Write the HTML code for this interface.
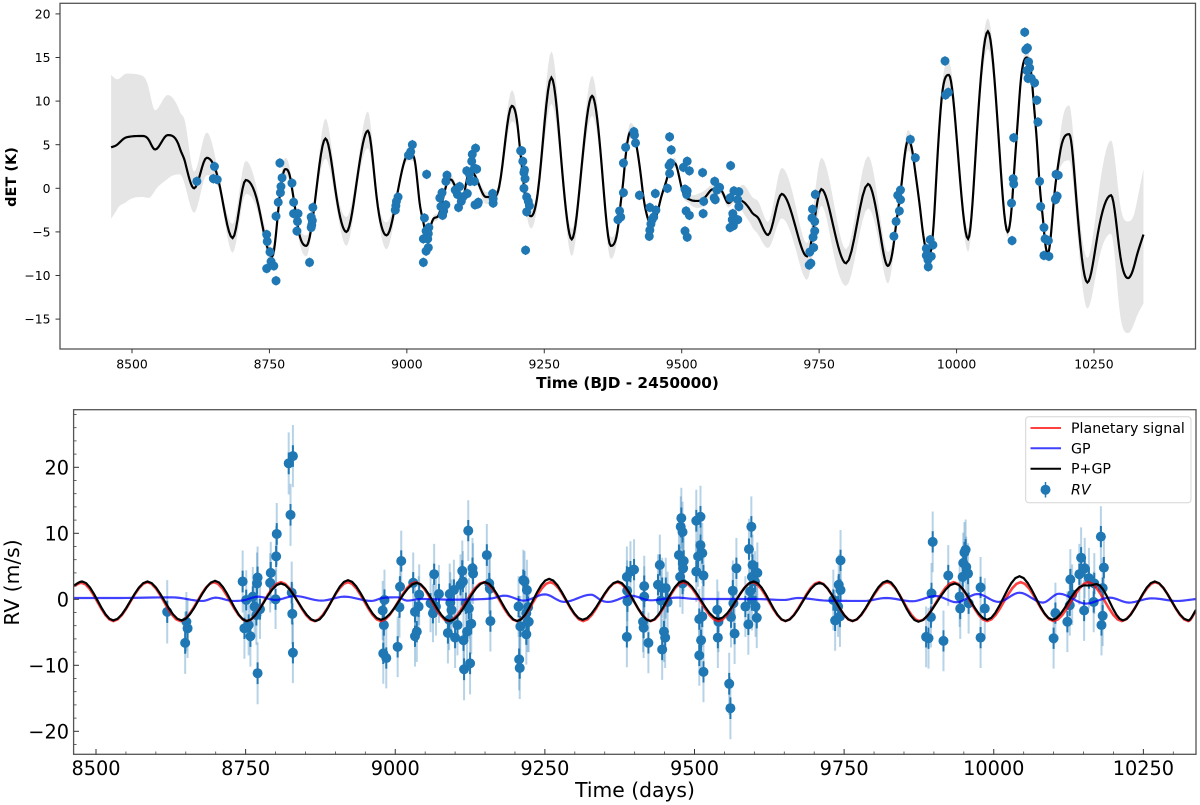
<!DOCTYPE html>
<html lang="en">
<head>
<meta charset="utf-8">
<title>dET and RV time series</title>
<style>
html,body{margin:0;padding:0;background:#fff;width:1200px;height:805px;overflow:hidden}
svg{display:block;filter:blur(.35px)}
text{font-family:"DejaVu Sans","Liberation Sans",sans-serif;fill:#000}
</style>
</head>
<body>
<svg id="figure" xmlns="http://www.w3.org/2000/svg" width="1200" height="805" viewBox="0 0 1200 805">
  <defs>
    <clipPath id="clip-rv"><rect x="73.6" y="409.7" width="1122.4" height="344.6"/></clipPath>
  </defs>
  <rect x="0" y="0" width="1200" height="805" fill="#fff"/>

  <g id="top-panel">
    <g id="top-band"></g>
    <g id="top-line"></g>
    <g id="top-points"></g>
    <rect x="60" y="3.3" width="1135.5" height="345.7" fill="none" stroke="#555" stroke-width="1.3"/>
    <g id="top-xaxis"></g>
    <g id="top-yaxis"></g>
    <text x="627.5" y="388" text-anchor="middle" font-size="15.3" font-weight="bold">Time (BJD - 2450000)</text>
    <text transform="translate(16,177) rotate(-90)" text-anchor="middle" font-size="14.5" font-weight="bold">dET (K)</text>
  </g>

  <g id="bottom-panel">
    <g clip-path="url(#clip-rv)">
      <g id="rv-points"></g>
      <g id="rv-lines"></g>
    </g>
    <rect x="73.6" y="409.7" width="1122.4" height="344.6" fill="none" stroke="#555" stroke-width="1.3"/>
    <g id="rv-xaxis"></g>
    <g id="rv-yaxis"></g>
    <text x="635" y="797" text-anchor="middle" font-size="20.3">Time (days)</text>
    <text transform="translate(19,582.5) rotate(-90)" text-anchor="middle" font-size="20.3">RV (m/s)</text>

    <g>
      <rect x="1025.7" y="416.7" width="165.3" height="86" rx="3" fill="#fff" fill-opacity=".85" stroke="#d5d5d5" stroke-width="1"/>
      <line x1="1030.5" x2="1061" y1="428" y2="428" stroke="#ff0000" stroke-opacity=".75" stroke-width="2"/>
      <text x="1071" y="433" font-size="14.2">Planetary signal</text>
      <line x1="1030.5" x2="1061" y1="448.3" y2="448.3" stroke="#0000ff" stroke-opacity=".75" stroke-width="2"/>
      <text x="1071" y="453.3" font-size="14.2">GP</text>
      <line x1="1030.5" x2="1061" y1="468.7" y2="468.7" stroke="#000" stroke-width="2"/>
      <text x="1071" y="473.7" font-size="14.2">P+GP</text>
      <line x1="1045.5" x2="1045.5" y1="482" y2="497.5" stroke="#1f77b4" stroke-width="1.5"/>
      <circle cx="1045.5" cy="489.7" r="5" fill="#1f77b4"/>
      <text x="1071" y="494.7" font-size="14.2" font-style="italic">RV</text>
    </g>
  </g>
</svg>

<script>
/* ---------- dET panel data ---------- */
const detTicksX = [8500, 8750, 9000, 9250, 9500, 9750, 10000, 10250];
const detTicksY = [-15, -10, -5, 0, 5, 10, 15, 20];

const modelTimes = [
8462,8473,8490,8519,8530,8542,8565,8587,8597,8613,
8636,8657,8683,8707,8733,8750,8755,8768,8779,8789,
8799,8817,8830,8852,8872,8890,8911,8929,8945,8963,
8984,9003,9012,9022,9031,9037,9046,9060,9071,9080,
9088,9102,9109,9117,9130,9144,9158,9168,9191,9203,
9213,9226,9238,9263,9283,9300,9318,9337,9352,9371,
9387,9395,9407,9416,9428,9439,9446,9460,9474,9487,
9501,9515,9529,9543,9557,9571,9585,9595,9611,9627,
9641,9657,9682,9707,9728,9754,9776,9799,9839,9860,
9875,9888,9902,9912,9922,9936,9950,9961,9971,9986,
10002,10021,10037,10057,10076,10093,10103,10114,10128,10138,
10149,10159,10166,10176,10187,10205,10218,10238,10257,10281,
10298,10312,10326,10340];
const modelValues = [
4.7,5.0,5.85,6.0,5.6,4.45,6.1,4.6,2.9,0,
3.5,1,-5.7,0.95,-2.9,-7.5,-7.8,-1.3,2.2,0.8,
-3.3,-6.6,-2.9,5.7,-1,-5,1.7,6.6,-1,-5.4,
-0.2,3.9,3.7,-1,-4.2,-5.2,-3.8,-2.7,0.2,1,
0.2,-1,1,1.9,0.6,-1,-1,0.2,9.45,6.3,
0.2,-3.2,-0.6,12.7,1.7,-5.85,2.5,10.6,4.4,-6.6,
-2.9,1.7,6.5,5.5,0.2,-3.6,-4.1,-1.7,1.3,2.9,
-0.2,-1.3,-1.45,-1,-0.1,-0.2,-1.7,-1.3,-1.5,-2.7,
-3.6,-5.35,-0.65,-4.4,-7.8,-0.1,-4.4,-8.6,0.5,-4.75,
-8.9,-5.2,1.7,5.5,3.25,-3.6,-7.8,-1.3,9,13,
4.4,-5.8,6.3,18,6.3,-5,0.2,10.1,15,11.7,
2.5,-4.8,-7.5,-2.1,3.6,6.2,-1.3,-10.8,-5.2,-0.8,
-7.8,-10.3,-8.2,-5.3];
const bandAbove = [
8.3,7.5,7.3,6.9,6.0,4.5,4.6,4.2,4.6,1.9,
2.9,0.8,1.6,2.2,1,1.2,1,0.8,1.3,0.8,
0.8,1.2,0.6,2.3,1.2,1.7,1.2,2.2,1,1.5,
0.6,0.7,0.6,0.5,0.4,0.4,0.4,0.4,0.5,0.5,
0.5,0.5,0.5,0.5,0.5,0.6,0.5,0.8,1.8,0.8,
0.5,0.7,1.2,3,1.5,1.2,1.5,2.3,1.5,1,
0.5,0.5,1,0.7,0.5,0.4,0.4,0.4,0.4,0.6,
0.5,0.5,0.8,0.8,0.5,0.5,0.5,0.4,1.9,1.8,
1.9,1.5,3,2.5,1.5,3.6,3,1.6,3.2,2,
1.6,0.8,1.2,1.2,0.9,0.7,0.5,0.5,0.8,1.5,
1.2,1.1,1.5,1.5,1.2,0.6,0.5,0.6,0.7,0.5,
0.4,0.4,0.4,0.6,1.5,3.3,2.5,2.8,4,6.3,
5.8,6.5,6,7.5];
const bandBelow = [
8.2,7.4,7.4,7.0,6.7,4.7,5.0,3.0,2.7,2.8,
2,0.9,1.7,1.6,1,1,1,0.8,0.8,0.8,
0.8,1.2,0.6,2.3,1.2,1.6,1.2,2,1,1.6,
0.6,0.7,0.6,0.5,0.4,0.4,0.4,0.4,0.5,0.5,
0.5,0.5,0.5,0.5,0.5,0.8,0.5,0.8,1.8,0.8,
0.5,1.4,1.2,3,1.5,1.9,1.5,2.3,1.5,1.5,
0.5,0.5,0.8,0.7,0.5,0.4,0.4,0.4,0.4,0.5,
0.5,0.5,0.8,0.8,0.5,0.5,0.5,0.4,1.2,1.6,
1.9,1.5,2.8,2.5,2.7,1.9,3,2.6,2.8,2,
2,0.8,1.2,1.2,0.9,0.7,0.5,0.5,0.8,1.5,
1.2,1.5,1.5,2,1.2,0.6,0.5,0.6,0.7,0.5,
0.4,0.4,0.4,0.6,1.5,3,2.5,3,3.5,4.4,
6.9,6.3,6.8,7.9];

const detTimes = [
8618,8650,8648,8655,8745,8746,8751,8753,8745,8758,
8762,8762,8766,8770,8771,8773,8769,8791,8794,8794,
8802,8801,8800,8823,8829,8826,8828,8827,8826,8984,
8981,8980,8979,9005,9007,9010,9003,9036,9032,9035,
9040,9039,9030,9038,9039,9035,9030,9060,9064,9062,
9067,9065,9071,9071,9073,9088,9092,9096,9094,9099,
9102,9110,9109,9114,9115,9123,9119,9118,9123,9127,
9125,9124,9130,9129,9156,9157,9157,9207,9209,9211,
9214,9213,9215,9213,9218,9221,9223,9218,9216,9387,
9384,9389,9394,9394,9398,9413,9414,9416,9423,9441,
9442,9444,9446,9442,9453,9449,9452,9474,9478,9477,
9480,9481,9478,9503,9510,9514,9506,9510,9509,9508,
9514,9506,9510,9538,9540,9539,9560,9569,9564,9559,
9561,9589,9588,9595,9604,9602,9604,9593,9592,9602,
9594,9588,9738,9743,9737,9742,9742,9739,9740,9733,
9735,9732,9886,9890,9896,9898,9893,9898,9916,9925,
9979,9980,9985,9952,9957,9945,9954,9945,9948,9948.5,
10124,10126,10129,10131,10133,10128,10130,10136,10142,10146,
10148,10104,10103,10104,10100,10101,10151,10153,10159,10161,
10167,10159,10168,10181,10185,10183,10180,10180];
const detValues = [
0.8,2.5,1.1,1,-5.3,-6.1,-7.3,-8.4,-9.2,-8.9,
-10.6,-3.2,-1.6,-0.5,0.2,1.2,2.9,0.6,-1.6,-2.9,
-2.9,-3.8,-4.9,-8.5,-2.2,-3.3,-3.7,-4.2,-4.5,-1,
-1.5,-2,-2.5,3.8,4.2,5,3.8,1.6,-3.4,-4.9,
-4.5,-5.2,-5.8,-5.8,-6.8,-7.2,-8.5,-1.1,-0.5,-2.1,
-2.6,-3.1,-1.9,0.8,1.5,-0.2,-0.7,0.2,-2.2,-1.5,
-1,-0.6,2,1.6,0.8,0.8,3.9,3.1,2.3,2.2,
4.6,-1.9,-1.6,-1.8,-0.6,-1.2,-1.7,4.3,4.3,3.1,
2.1,1.8,1.1,0,-1,-1.5,-2,-2.7,-7.1,-2.6,
-3.6,-3.3,-0.5,2.9,4.7,6.5,6.1,5.2,-0.8,-5.5,
-4.8,-4.1,-3.6,-2.2,-2.5,-3.3,-0.6,0,1.7,2.6,
2.9,4.4,5.9,2.4,3.1,2,-0.1,-0.3,-0.7,-2.6,
-3.1,-4.9,-5.6,1.8,-1.5,-2.9,0.8,0.1,-0.2,-1.1,
-1.3,2.6,-1.1,-0.3,-0.4,-1.3,-2.1,-2.9,-3.6,-3.6,
-4.3,-4.5,-2.4,-0.7,-3.4,-3.8,-4.9,-5.6,-6.8,-7.3,
-8.6,-8.8,-5.5,-3.8,-2.6,-1.3,-0.8,-0.2,5.6,3.5,
14.6,10.7,11,-5.9,-6.5,-6.9,-7.8,-7.7,-8.2,-9,
17.9,15.9,16.1,14.5,13.8,13.5,12.6,12.6,12.1,10.1,
7.6,5.8,1.1,0.5,-1.7,-6,0.8,-2.1,-4.5,-5.8,
-6,-7.7,-7.8,1.6,1.5,-0.9,-1.2,-1.3];
const detError = [0.55];

/* ---------- RV panel data ---------- */
const rvTicksX = [8500, 8750, 9000, 9250, 9500, 9750, 10000, 10250];
const rvMinorTicksX = [8550,8600,8650,8700,8800,8850,8900,8950,9050,9100,9150,9200,9300,9350,9400,9450,9550,9600,9650,9700,9800,9850,9900,9950,10050,10100,10150,10200,10300];
const rvTicksY = [-20, -10, 0, 10, 20];
const rvMinorTicksY = [-22,-18,-16,-14,-12,-8,-6,-4,-2,2,4,6,8,12,14,16,18,22,24,26,28];

const planetTimes = [8463,8476,8529,8586,8641,8697,8752,8809,8865,8921,8976,9034,9089,9148,9203,9259,9314,9371,9427,9481,9540,9597,9652,9708,9764,9822,9876,9933,9989,10045,10100,10158,10214,10270,10325,10338];
const planetValues = [2,2.5,-3.3,2.6,-3.3,2.6,-3.3,2.6,-3.3,2.6,-3.3,2.6,-3.3,2.6,-3.3,2.6,-3.3,2.6,-3.3,2.6,-3.3,2.6,-3.3,2.6,-3.3,2.6,-3.3,2.6,-3.3,2.6,-3.3,2.6,-3.3,2.6,-3.3,-1.7];

const gpTimes = [8463,8540,8627,8678,8700,8729,8749,8771,8800,8832,8877,8915,8960,8979,9004,9020,9043,9091,9158,9183,9215,9250,9282,9327,9343,9356,9394,9426,9471,9503,9599,9650,9673,9721,9784,9820,9864,9903,9938,9973,10008,10043,10082,10109,10154,10194,10226,10264,10306,10339];
const gpValues = [0.2,0.2,0.3,-0.25,0.25,-0.25,-0.1,0.4,-0.1,0.5,-0.2,0.4,-0.25,0.2,0.3,-0.2,0.05,-0.05,0.1,0.55,-0.2,0.75,-0.4,0.7,-0.1,-0.4,0.55,-0.15,0.25,0.05,0.05,-0.1,0.2,-0.2,-0.25,0.2,-0.3,0.5,-0.45,0.8,-0.4,1,-0.5,0.85,-0.65,0.25,-0.5,0.15,-0.25,0.05];

const combinedTimes = [8463,8477,8529,8586,8643,8699,8752,8809,8867,8921,8976,9036,9091,9150,9204,9257,9313,9372,9426,9481,9540,9599,9652,9709,9764,9822,9874,9935,9989,10043,10098,10150,10160,10172,10216,10269,10325,10338];
const combinedValues = [2.1,2.7,-3.2,2.7,-3.2,2.8,-3.3,2.4,-3.3,2.9,-3.1,2.5,-3.3,2.6,-3.3,3.1,-3.1,2.7,-3.3,2.8,-3,2.7,-3.3,2.5,-3.3,2.8,-3.4,2.4,-3.1,3.5,-3.1,2.1,2.1,2.3,-3.2,2.7,-3.2,-1.6];

const rvTimes = [
8619,8651,8653,8649,8745,8748,8755,8758,8751,8762,
8765,8768,8774,8769,8770,8770,8792,8791,8800,8801,
8802,8825,8822,8829,8827,8828,8829,8979,8982,8981,
8980,8985,9004,9007,9008,9010,9030,9033,9039,9040,
9036,9033,9059,9065,9063,9073,9068,9088,9090,9091,
9092,9094,9098,9104,9100,9109,9112,9114,9115,9113,
9118,9123,9120,9127,9125,9122,9129,9130,9153,9157,
9159,9158,9206,9207,9208,9209,9214,9216,9219,9220,
9222,9221,9223,9219,9387,9387,9387.5,9388,9393,9399,
9414,9415,9416,9416,9423,9439,9442,9444,9446,9446,
9449,9451,9452,9455,9474,9477,9478,9480,9482,9481,
9476,9480,9503,9510,9506,9510,9513,9503,9515,9508,
9513,9511,9508,9515,9538,9540,9539,9558,9560,9561,
9564,9567,9570,9565,9585,9590,9591,9595,9597,9596,
9593,9596,9602,9604,9605,9601,9732,9735,9740,9741,
9743,9744,9744,9887,9891,9895,9896,9898,9916,9924,
9943,9944,9948,9949,9951,9953,9954,9957,9958,9978,
9978,9985,10100,10103,10123,10128,10127,10131,10143,10146,
10152,10151,10159,10167,10168,10179,10184,10182,10182,10180];
const rvValues = [
-1.9,-3.4,-4.4,-6.6,2.7,-4.4,-3.9,-5.6,-0.1,0.4,
-1.1,-2.4,-1.5,2.4,3.3,-11.2,4,2.5,0,6.5,
9.9,12.8,20.6,21.7,1,-2.2,-8.1,-1.7,-0.1,-3.9,
-8.2,-8.9,-7.2,-1.2,1.9,5.8,2.5,-1.9,-1.1,0.7,
-4.9,-5.6,-0.6,3.8,-2.1,0.8,-1.1,-5.1,-3.1,0.8,
-0.5,-1.6,1.4,-3.9,-5.8,2.2,4.3,-6.2,-10.6,2.7,
-0.6,-1.4,-4.9,-3.7,-9.7,10.4,4.7,3.9,6.7,2.4,
-3.3,1.6,-1.1,-9.1,-10.4,-4.1,2.9,2.7,-2.1,1.4,
-1.2,-3.4,-3.4,-5.3,3.4,-5.7,1.3,-0.3,4.2,4.5,
-3.4,-4.3,2,0.4,-6.6,2.2,5.2,-0.2,1.7,-7.6,
-4.9,-5.8,1.7,-0.4,6.7,11,12.3,10.2,5.8,4.7,
3.4,2.4,11.9,12.5,6.5,8.2,7,4.2,3.6,-3,
-2.6,-6.2,-8.5,-11,-1.6,-3.4,-5.8,-12.8,-16.5,-2.7,
1.3,-5.2,4.7,-0.6,-1.1,-3.8,7.6,11,5.2,3.4,
1.2,-0.1,-1.1,-2.8,4,2.7,-0.1,-3.2,-1.1,2.2,
-2.6,1.4,5.9,-5.7,-5.9,-2.7,0.9,8.7,-6.3,3.6,
0.4,-1.4,3.4,5.5,7.1,7.5,4.9,3.9,-0.6,1.8,
-5.8,-1.4,-5.9,-2.1,-3.4,3,-0.9,0.7,3.8,6.3,
4.7,-1.7,3.2,-0.4,2.4,9.5,4.8,1.7,-2.5,-3.9];
const rvErrors = [
4.8,4.5,4.5,4.7,4.7,4.6,4.6,4.6,4.5,4.5,
4.5,4.5,4.5,4.7,4.7,4.7,4.7,4.5,4.5,4.6,
4.7,4.7,4.7,4.7,4.7,4.6,4.6,4.5,4.6,4.6,
4.6,4.6,4.6,4.6,4.6,4.6,4.6,4.6,4.6,4.6,
4.6,4.6,4.4,4.6,4.4,4.4,4.4,4.6,4.6,4.6,
4.6,4.6,4.6,4.6,4.6,4.6,4.6,4.6,4.7,4.6,
4.6,4.6,4.6,4.6,4.7,4.6,4.6,4.6,4.7,4.6,
4.6,4.6,4.6,4.7,4.7,4.6,4.6,4.6,4.6,4.6,
4.6,4.6,4.6,4.6,4.6,4.6,4.6,4.6,4.6,4.6,
4.6,4.6,4.6,4.6,4.6,4.6,4.6,4.6,4.6,4.6,
4.6,4.6,4.6,4.6,4.6,4.6,4.6,4.6,4.6,4.6,
4.6,4.6,4.7,4.7,4.6,4.6,4.6,4.6,4.6,4.6,
4.6,4.6,4.6,4.6,4.6,4.6,4.6,4.7,4.7,4.6,
4.6,4.6,4.6,4.6,4.6,4.6,4.6,4.6,4.6,4.6,
4.6,4.6,4.6,4.6,4.6,4.6,4.6,4.6,4.6,4.6,
4.6,4.6,4.6,4.6,4.6,4.6,4.6,4.6,4.6,4.6,
4.6,4.6,4.6,4.6,4.6,4.6,4.6,4.6,4.6,4.6,
4.6,4.6,4.6,4.6,4.6,4.6,4.6,4.6,4.6,4.6,
4.6,4.6,4.6,4.6,4.6,4.6,4.6,4.6,4.6,4.6];

/* ---------- axis functions ---------- */
const detX = t => 132 + (t - 8500) * 0.5497;
const detY = v => 188.3 - v * 8.72;
const rvX = t => 96 + (t - 8500) * 0.5985;
const rvY = v => 599.3 - v * 6.6;

const NS = 'http://www.w3.org/2000/svg';
function make(tag, parent, props) {
  const el = document.createElementNS(NS, tag);
  for (const k in props) el.setAttribute(k, props[k]);
  parent.appendChild(el);
  return el;
}
const byId = id => document.getElementById(id);

/* shape-preserving cubic sampling of a series, so extrema stay at the given values */
function smooth(xs, ys) {
  const n = xs.length, s = [], m = [];
  for (let i = 0; i < n - 1; i++) s.push((ys[i + 1] - ys[i]) / (xs[i + 1] - xs[i]));
  for (let i = 0; i < n; i++) {
    if (i === 0) { m.push(s[0]); continue; }
    if (i === n - 1) { m.push(s[n - 2]); continue; }
    if (s[i - 1] * s[i] <= 0) { m.push(0); continue; }
    const h0 = xs[i] - xs[i - 1], h1 = xs[i + 1] - xs[i];
    const p = (s[i - 1] * h1 + s[i] * h0) / (h0 + h1);
    const limit = 3 * Math.min(Math.abs(s[i - 1]), Math.abs(s[i]));
    m.push(Math.sign(s[i]) * Math.min(limit, 1.45 * Math.abs(p)));
  }
  const pts = [];
  for (let i = 0; i < n - 1; i++) {
    const h = xs[i + 1] - xs[i];
    for (let k = 0; k < 8; k++) {
      const u = k / 8, u2 = u * u, u3 = u2 * u;
      pts.push([xs[i] + u * h,
        (2 * u3 - 3 * u2 + 1) * ys[i] + (u3 - 2 * u2 + u) * h * m[i] +
        (-2 * u3 + 3 * u2) * ys[i + 1] + (u3 - u2) * h * m[i + 1]]);
    }
  }
  pts.push([xs[n - 1], ys[n - 1]]);
  return pts;
}
const toPoints = (pts, fx, fy) => pts.map(p => fx(p[0]).toFixed(2) + ',' + fy(p[1]).toFixed(2)).join(' ');

/* ---------- dET panel ---------- */
const upper = smooth(modelTimes, modelValues.map((v, i) => v + bandAbove[i]));
const lower = smooth(modelTimes, modelValues.map((v, i) => v - bandBelow[i]));
const band = make('polygon', byId('top-band'), {
  points: toPoints(upper, detX, detY) + ' ' + toPoints(lower.slice().reverse(), detX, detY),
  fill: '#e5e5e5', stroke: 'none'
});



const detLine = make('polyline', byId('top-line'), {
  points: toPoints(smooth(modelTimes, modelValues), detX, detY),
  fill: 'none', stroke: '#000', 'stroke-width': 2.2
});



detTimes.forEach((t, i) => {
  const bar = make('line', byId('top-points'), {
    x1: detX(t), x2: detX(t), y1: detY(detValues[i] + detError[0]), y2: detY(detValues[i] - detError[0]),
    stroke: '#1f77b4', 'stroke-width': 1.3
  });
  
  
  const dot = make('circle', byId('top-points'), { cx: detX(t), cy: detY(detValues[i]), r: 4.5, fill: '#1f77b4' });
  
  
});

detTicksX.forEach(t => {
  const tick = make('line', byId('top-xaxis'), { x1: detX(t), x2: detX(t), y1: 349, y2: 353.3, stroke: '#333', 'stroke-width': 1 });
  
  
  const label = make('text', byId('top-xaxis'), { x: detX(t), y: 368.3, 'text-anchor': 'middle', 'font-size': 12.4 });
  
  
  label.textContent = String(t);
});
detTicksY.forEach(v => {
  const tick = make('line', byId('top-yaxis'), { x1: 55.5, x2: 60, y1: detY(v), y2: detY(v), stroke: '#333', 'stroke-width': 1 });
  
  
  const label = make('text', byId('top-yaxis'), { x: 50.5, y: detY(v) + 4.6, 'text-anchor': 'end', 'font-size': 12.4 });
  
  
  label.textContent = String(v).replace('-', '\u2212');
});

/* ---------- RV panel ---------- */
rvTimes.forEach((t, i) => {
  const outer = make('line', byId('rv-points'), {
    x1: rvX(t), x2: rvX(t), y1: rvY(rvValues[i] + rvErrors[i]), y2: rvY(rvValues[i] - rvErrors[i]),
    stroke: '#1f77b4', 'stroke-opacity': 0.32, 'stroke-width': 2
  });
  
  
  const inner = make('line', byId('rv-points'), {
    x1: rvX(t), x2: rvX(t), y1: rvY(rvValues[i] + rvErrors[i] * 0.35), y2: rvY(rvValues[i] - rvErrors[i] * 0.35),
    stroke: '#1f77b4', 'stroke-width': 2
  });
  
  
});
rvTimes.forEach((t, i) => {
  const dot = make('circle', byId('rv-points'), { cx: rvX(t), cy: rvY(rvValues[i]), r: 5, fill: '#1f77b4' });
  
  
});

const planetLine = make('polyline', byId('rv-lines'), {
  points: toPoints(smooth(planetTimes, planetValues), rvX, rvY),
  fill: 'none', stroke: '#ff0000', 'stroke-opacity': 0.75, 'stroke-width': 2.6
});



const gpLine = make('polyline', byId('rv-lines'), {
  points: toPoints(smooth(gpTimes, gpValues), rvX, rvY),
  fill: 'none', stroke: '#0000ff', 'stroke-opacity': 0.75, 'stroke-width': 2.2
});



const combinedLine = make('polyline', byId('rv-lines'), {
  points: toPoints(smooth(combinedTimes, combinedValues), rvX, rvY),
  fill: 'none', stroke: '#000', 'stroke-width': 2.2
});



rvTicksX.forEach(t => {
  const tick = make('line', byId('rv-xaxis'), { x1: rvX(t), x2: rvX(t), y1: 754.3, y2: 749, stroke: '#333', 'stroke-width': 1 });
  
  
  const label = make('text', byId('rv-xaxis'), { x: rvX(t), y: 775, 'text-anchor': 'middle', 'font-size': 19.3 });
  
  
  label.textContent = String(t);
});
rvMinorTicksX.forEach(t => {
  const tick = make('line', byId('rv-xaxis'), { x1: rvX(t), x2: rvX(t), y1: 754.3, y2: 751.5, stroke: '#444', 'stroke-width': 0.8 });
  
  
});
rvTicksY.forEach(v => {
  const tick = make('line', byId('rv-yaxis'), { x1: 73.6, x2: 79, y1: rvY(v), y2: rvY(v), stroke: '#333', 'stroke-width': 1 });
  
  
  const label = make('text', byId('rv-yaxis'), { x: 69, y: rvY(v) + 7, 'text-anchor': 'end', 'font-size': 19.3 });
  
  
  label.textContent = String(v).replace('-', '\u2212');
});
rvMinorTicksY.forEach(v => {
  const tick = make('line', byId('rv-yaxis'), { x1: 73.6, x2: 76.6, y1: rvY(v), y2: rvY(v), stroke: '#444', 'stroke-width': 0.8 });
  
  
});
</script>
</body>
</html>
